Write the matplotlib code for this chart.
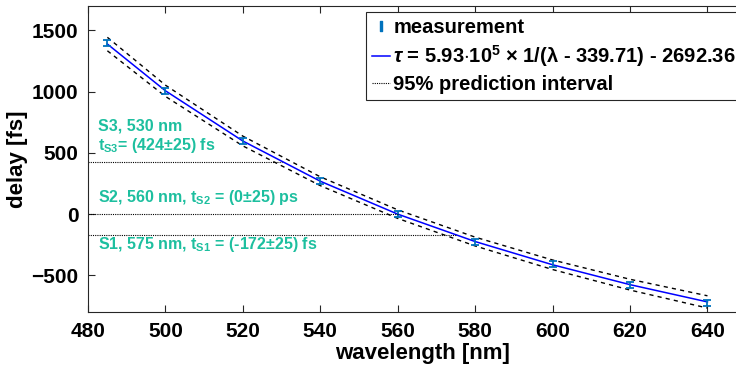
import numpy as np
import matplotlib.pyplot as plt
from matplotlib.lines import Line2D

# measured delays
wavelength = [485, 500, 520, 540, 560, 580, 600, 620, 640]
delay = [1398, 1005, 595, 268, 0, -228, -405, -578, -728]
delay_err = [25, 25, 25, 25, 25, 25, 25, 25, 25]

# fit parameters (from legend)
fit_a = 5.93e5
fit_l0 = 339.71
fit_c = 2692.36

# half width of 95% prediction interval at each wavelength
pi_half = [55, 46, 40, 36, 35, 36, 39, 44, 50]

# selected spectral positions
sel_wl = [530, 560, 575]
sel_delay = [424, 0, -172]

TEAL = "#1dbf9f"

plt.rcParams["font.family"] = ["Liberation Sans", "DejaVu Sans"]
plt.rcParams["font.weight"] = "bold"
plt.rcParams["mathtext.fontset"] = "custom"
plt.rcParams["mathtext.rm"] = "Liberation Sans:bold"
plt.rcParams["mathtext.bf"] = "Liberation Sans:bold"
plt.rcParams["mathtext.it"] = "Liberation Sans:italic:bold"
plt.rcParams["mathtext.default"] = "rm"

fig = plt.figure(figsize=(7.36, 3.75), dpi=100)
ax = fig.add_axes([0.1196, 0.168, 0.91, 0.816])

wl = np.array(wavelength, dtype=float)
fit = fit_a / (wl - fit_l0) - fit_c
half = np.array(pi_half)

# 1: prediction band and fit
ax.plot(wl, fit + half, color="k", lw=1.0, ls=(0, (3, 3)))
ax.plot(wl, fit - half, color="k", lw=1.0, ls=(0, (3, 3)))
ax.plot(wl, fit, color="#0000ff", lw=1.1)

# 2: measurements
ax.errorbar(wavelength, delay, yerr=delay_err, fmt="none", ecolor="#0072bd",
            elinewidth=1.3, capsize=3, capthick=1.3)

# 3: horizontal markers for selected positions
for w, d in zip(sel_wl, sel_delay):
    ax.plot([480, w], [d, d], color="k", ls=(0, (1, 1)), lw=0.8)

tkw = dict(color=TEAL, fontsize=11.5, fontweight="bold", va="center")
ax.text(482.6, 721, "S3, 530 nm", **tkw)
ax.text(482.6, 560, r"t$_{S3}$= (424$\pm$25) fs", **tkw)
ax.text(482.6, 135, r"S2, 560 nm, t$_{S2}$ = (0$\pm$25) ps", **tkw)
ax.text(482.6, -250, r"S1, 575 nm, t$_{S1}$ = (-172$\pm$25) fs", **tkw)

# 4: axes styling
ax.set_xlim(480, 653)
ax.set_ylim(-800, 1700)
ax.set_xticks(range(480, 641, 20))
ax.set_yticks([-500, 0, 500, 1000, 1500])
ax.tick_params(direction="in", top=True, right=True, labelsize=15,
               length=5, width=0.8, color="#262626", pad=7)
for lbl in ax.get_xticklabels() + ax.get_yticklabels():
    lbl.set_fontweight("bold")
for sp in ax.spines.values():
    sp.set_color("#262626")
    sp.set_linewidth(0.8)
ax.set_xlabel("wavelength [nm]", fontsize=16, fontweight="bold", labelpad=2)
ax.set_ylabel("delay [fs]", fontsize=16, fontweight="bold", labelpad=2)

# 5: legend
handles = [
    Line2D([], [], color="#0072bd", marker="$I$", ls="none", markersize=7),
    Line2D([], [], color="#0000ff", lw=1.1),
    Line2D([], [], color="k", ls=(0, (1, 1)), lw=0.8),
]
labels = [
    "measurement",
    r"$\it{\tau}$ = 5.93$\cdot$10$^{5}$ $\times$ 1/($\lambda$ - 339.71) - 2692.36",
    "95% prediction interval",
]
leg = ax.legend(handles, labels, loc="upper left",
                bbox_to_anchor=(366 / 736, 1 - 12 / 375),
                bbox_transform=fig.transFigure,
                prop={"weight": "bold", "size": 14.5}, handlelength=0.9,
                handletextpad=0.15, labelspacing=0.3, borderaxespad=0,
                borderpad=0.3, fancybox=False, edgecolor="#262626",
                framealpha=1)
leg.get_frame().set_linewidth(0.8)

plt.savefig("out.png", dpi=100)
